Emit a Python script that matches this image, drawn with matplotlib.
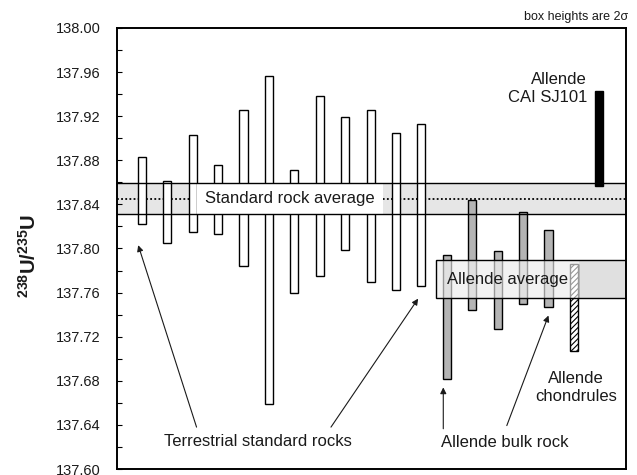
import matplotlib
matplotlib.use("Agg")
import matplotlib.pyplot as plt
from matplotlib.patches import Rectangle
from matplotlib.ticker import MultipleLocator, FormatStrFormatter

plt.rcParams["font.family"] = ["Liberation Sans", "DejaVu Sans"]
plt.rcParams["mathtext.fontset"] = "custom"
plt.rcParams["mathtext.rm"] = "Liberation Sans"
plt.rcParams["mathtext.bf"] = "Liberation Sans:bold"
plt.rcParams["hatch.linewidth"] = 0.8

# 238U/235U ranges (2 sigma) per sample
terr_lo = [137.822, 137.805, 137.815, 137.813, 137.784, 137.659,
           137.760, 137.775, 137.799, 137.770, 137.762, 137.766]
terr_hi = [137.883, 137.861, 137.903, 137.876, 137.926, 137.956,
           137.871, 137.938, 137.919, 137.926, 137.905, 137.913]
bulk_lo = [137.682, 137.744, 137.727, 137.750, 137.747]
bulk_hi = [137.794, 137.844, 137.798, 137.833, 137.817]
chond_lo, chond_hi = [137.707], [137.786]
cai_lo, cai_hi = [137.857], [137.943]

std_avg = 137.845
std_band = (137.831, 137.859)
allende_band = (137.755, 137.790)

x_terr = list(range(1, 13))
x_bulk = list(range(13, 18))
x_chond = [18]
x_cai = [19]

fig = plt.figure(figsize=(6.37, 4.75), dpi=100)
ax = fig.add_axes([0.1837, 0.0126, 0.799, 0.9285])
ax.set_xlim(0.02, 20.05)
ax.set_ylim(137.60, 138.00)

# standard rock average band
ax.add_patch(Rectangle((0.02, std_band[0]), 20.03, std_band[1] - std_band[0],
                       facecolor="#e6e6e6", edgecolor="none", zorder=1))
for yb in std_band:
    ax.axhline(yb, color="black", lw=1.0, zorder=5)
ax.axhline(std_avg, color="black", lw=1.3, ls=(0, (1, 1.3)), zorder=1.5)

# Allende average band
ab_x0 = 12.575
ax.add_patch(Rectangle((ab_x0, allende_band[0]), 20.05 - ab_x0, allende_band[1] - allende_band[0],
                       facecolor="#e0e0e0", edgecolor="none", zorder=1))
ax.add_patch(Rectangle((ab_x0, allende_band[0]), 20.05 - ab_x0, allende_band[1] - allende_band[0],
                       facecolor="none", edgecolor="black", lw=1.0, zorder=5))

w = 0.32
hts = lambda lo, hi: [h - l for l, h in zip(lo, hi)]
ax.bar(x_terr, hts(terr_lo, terr_hi), bottom=terr_lo, width=w,
       facecolor="white", edgecolor="black", lw=1.0, zorder=3)
ax.bar(x_bulk, hts(bulk_lo, bulk_hi), bottom=bulk_lo, width=w,
       facecolor="#b4b4b4", edgecolor="black", lw=1.0, zorder=3)
ax.bar(x_chond, hts(chond_lo, chond_hi), bottom=chond_lo, width=w,
       facecolor="white", edgecolor="black", hatch="//////", lw=1.0, zorder=3)
ax.bar(x_cai, hts(cai_lo, cai_hi), bottom=cai_lo, width=w,
       facecolor="black", edgecolor="black", lw=1.0, zorder=3)

# label boxes sitting on the bands
ax.add_patch(Rectangle((3.165, std_band[0]), 10.49 - 3.165, std_band[1] - std_band[0],
                       facecolor="white", edgecolor="none", zorder=4))
ax.text(6.83, std_avg, "Standard rock average", fontsize=12, ha="center", va="center",
        color="#1a1a1a", zorder=6)
ax.add_patch(Rectangle((ab_x0, allende_band[0]), 18.2 - ab_x0, allende_band[1] - allende_band[0],
                       facecolor="white", alpha=0.6, edgecolor="none", zorder=4))
ax.text(13.0, sum(allende_band) / 2 - 0.0004, "Allende average", fontsize=12, ha="left",
        va="center", color="#1a1a1a", zorder=6)

# group labels and arrows
arrow = dict(arrowstyle="-|>", color="#1a1a1a", lw=0.8, mutation_scale=9, shrinkA=0, shrinkB=0)
ax.text(5.57, 137.625, "Terrestrial standard rocks", fontsize=12, ha="center", va="center",
        color="#1a1a1a")
ax.annotate("", xy=(0.854, 137.803), xytext=(3.15, 137.638), arrowprops=arrow)
ax.annotate("", xy=(11.87, 137.7545), xytext=(8.44, 137.638), arrowprops=arrow)

ax.text(15.28, 137.624, "Allende bulk rock", fontsize=12, ha="center", va="center",
        color="#1a1a1a")
ax.annotate("", xy=(12.86, 137.674), xytext=(12.86, 137.6365), arrowprops=arrow)
ax.annotate("", xy=(17.0, 137.7392), xytext=(15.36, 137.6394), arrowprops=arrow)

ax.text(18.09, 137.674, "Allende\nchondrules", fontsize=12, ha="center", va="center",
        multialignment="center", linespacing=1.25, color="#1a1a1a")
ax.text(18.52, 137.945, "Allende\nCAI SJ101", fontsize=12, ha="right", va="center",
        multialignment="right", linespacing=1.3, color="#1a1a1a")

fig.text(0.986, 0.965, "box heights are 2σ", fontsize=9, ha="right", va="center",
         color="#1a1a1a")

# axes styling
ax.yaxis.set_major_locator(MultipleLocator(0.04))
ax.yaxis.set_minor_locator(MultipleLocator(0.02))
ax.yaxis.set_major_formatter(FormatStrFormatter("%.2f"))
ax.tick_params(axis="y", which="both", direction="in", length=3.5, width=0.8,
               labelsize=10.5, pad=12, labelcolor="#1a1a1a")
ax.set_xticks([])
for s in ax.spines.values():
    s.set_linewidth(1.4)

fig.text(0.0455, 1 - 256 / 475, r"$\mathbf{^{238}U/^{235}U}$", fontsize=14.5,
         rotation=90, ha="center", va="center", color="#1a1a1a")

fig.savefig("out.png", dpi=100)
